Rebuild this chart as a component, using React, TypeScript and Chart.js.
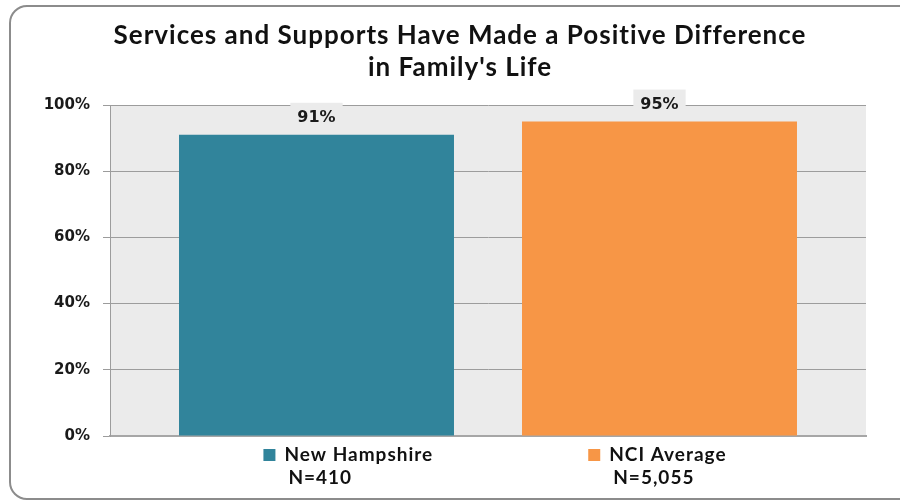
import React, { useEffect, useRef } from "react";
import { Chart, registerables } from "chart.js";

Chart.register(...registerables);

const TITLE_LINES = ["Services and Supports Have Made a Positive Difference", "in Family's Life"];
const CATEGORIES = [""];
const SERIES_NAMES = ["New Hampshire", "NCI Average"];
const SERIES_N = ["N=410", "N=5,055"];
const SERIES_VALUES = [[91], [95]];
const SERIES_COLORS = ["#31849B", "#F79646"];
const Y_TICKS = [0, 20, 40, 60, 80, 100];

const PLOT_BG = "#EBEBEB";
const GRID = "#9C9C9C";

const plotBgPlugin = {
  id: "plotBg",
  beforeDraw(chart: any) {
    const { ctx, chartArea } = chart;
    ctx.save();
    ctx.fillStyle = PLOT_BG;
    ctx.fillRect(chartArea.left, chartArea.top, chartArea.right - chartArea.left, chartArea.bottom - chartArea.top);
    ctx.restore();
  },
};

const titlePlugin = {
  id: "customTitle",
  afterDraw(chart: any) {
    const { ctx, width } = chart;
    ctx.save();
    ctx.fillStyle = "#111";
    ctx.font = "bold 26px Lato";
    (ctx as any).letterSpacing = "1px";
    ctx.textAlign = "center";
    ctx.textBaseline = "middle";
    TITLE_LINES.forEach((t, i) => ctx.fillText(t, width / 2 + 10, 36 + i * 32));
    ctx.restore();
  },
};

const labelPlugin = {
  id: "valueLabels",
  afterDatasetsDraw(chart: any) {
    const { ctx } = chart;
    ctx.save();
    ctx.font = "bold 16px 'DejaVu Sans'";
    ctx.textAlign = "center";
    ctx.textBaseline = "middle";
    chart.data.datasets.forEach((ds: any, di: number) => {
      const meta = chart.getDatasetMeta(di);
      meta.data.forEach((bar: any, i: number) => {
        const txt = ds.data[i] + "%";
        const cy = bar.y - 18;
        const w = ctx.measureText(txt).width + 14;
        ctx.fillStyle = PLOT_BG;
        ctx.fillRect(bar.x - w / 2, cy - 14, w, 28);
        ctx.fillStyle = "#1a1a1a";
        ctx.fillText(txt, bar.x, cy + 1);
      });
    });
    ctx.restore();
  },
};

const legendPlugin = {
  id: "customLegend",
  afterDraw(chart: any) {
    const { ctx, chartArea } = chart;
    ctx.save();
    ctx.font = "bold 19px Lato";
    (ctx as any).letterSpacing = "1px";
    ctx.textBaseline = "middle";
    const box = 12;
    const gap = 9;
    const spacing = 155;
    const widths = SERIES_NAMES.map((n) => box + gap + ctx.measureText(n).width);
    const total = widths.reduce((a, b) => a + b, 0) + spacing * (SERIES_NAMES.length - 1);
    let x = (chartArea.left + chartArea.right) / 2 + 7 - total / 2;
    const y1 = chartArea.bottom + 19;
    const y2 = chartArea.bottom + 42;
    SERIES_NAMES.forEach((n, i) => {
      ctx.fillStyle = SERIES_COLORS[i];
      ctx.fillRect(x, y1 - 6, box, box);
      ctx.fillStyle = "#111";
      ctx.fillText(n, x + box + gap, y1);
      ctx.fillText(SERIES_N[i], x + box + gap + 4, y2);
      x += widths[i] + spacing;
    });
    ctx.restore();
  },
};

export default function App() {
  const canvasRef = useRef<HTMLCanvasElement | null>(null);

  useEffect(() => {
    document.body.style.margin = "0";
    const canvas = canvasRef.current;
    if (!canvas) return;
    const chart = new Chart(canvas, {
      type: "bar",
      data: {
        labels: CATEGORIES,
        datasets: SERIES_NAMES.map((name, i) => ({
          label: name,
          data: SERIES_VALUES[i],
          backgroundColor: SERIES_COLORS[i],
          borderWidth: 0,
          categoryPercentage: 0.9074,
          barPercentage: 0.8017,
        })),
      },
      options: {
        animation: false,
        responsive: false,
        maintainAspectRatio: false,
        layout: { padding: { left: 0, right: 34, top: 105, bottom: 64 } },
        plugins: {
          legend: { display: false },
          title: { display: false },
          tooltip: { enabled: false },
        },
        scales: {
          x: {
            ticks: { display: false },
            grid: { display: false, drawTicks: false },
            border: { display: true, color: "#A6A6A6", width: 2 },
            afterFit(s: any) {
              s.height = 0;
            },
          },
          y: {
            min: 0,
            max: 100,
            afterBuildTicks(s: any) {
              s.ticks = Y_TICKS.map((v) => ({ value: v }));
            },
            ticks: {
              padding: 13,
              color: "#1a1a1a",
              font: { family: "'DejaVu Sans'", size: 15, weight: "bold" },
              callback: (v: any) => v + "%",
            },
            grid: { color: GRID, lineWidth: 1, tickLength: 7, drawTicks: true },
            border: { display: true, color: GRID, width: 1 },
            afterFit(s: any) {
              s.width = 110;
            },
          },
        },
      },
      plugins: [plotBgPlugin, titlePlugin, labelPlugin, legendPlugin],
    });
    return () => chart.destroy();
  }, []);

  return (
    <div style={{ position: "relative", width: 900, height: 500, overflow: "hidden", background: "#fff" }}>
      <style>{`body{margin:0;}`}</style>
      <canvas ref={canvasRef} width={900} height={500} style={{ position: "absolute", left: 0, top: 0 }} />
      <div
        style={{
          position: "absolute",
          left: 9,
          top: 5,
          width: 920,
          height: 491,
          border: "2px solid #8C8C8C",
          borderRadius: 18,
          pointerEvents: "none",
        }}
      />
    </div>
  );
}
